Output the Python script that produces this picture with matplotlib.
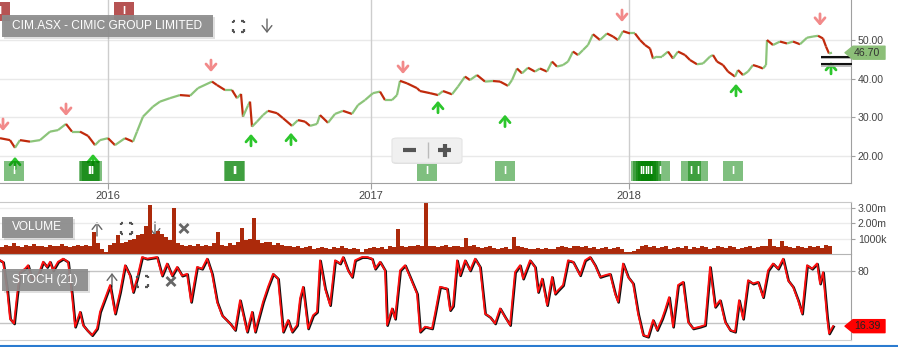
import matplotlib
matplotlib.use('Agg')
import matplotlib.pyplot as plt
import numpy as np
from matplotlib.collections import LineCollection
from matplotlib.patches import Rectangle, Polygon, FancyBboxPatch
from matplotlib.lines import Line2D
import matplotlib.transforms as mtransforms

plt.rcParams['font.family'] = ['Liberation Sans', 'DejaVu Sans']

W, H = 898, 347

# ---------------- data ----------------
title = 'CIM.ASX - CIMIC GROUP LIMITED'
price_day = [0, 10, 15, 20, 30, 40, 50, 58, 66, 72, 80, 88, 95, 100, 108, 115, 125, 133, 137, 143,
             153, 160, 170, 180, 190, 198, 212,
             217, 225, 232, 237, 241, 243, 248, 250, 252, 257, 263, 268, 277, 283, 292, 298, 305, 310,
             317, 320, 328, 335, 343, 352, 358, 365, 373, 380, 385, 392, 397, 400, 407, 417,
             420, 430, 438, 443, 452, 458, 465, 470, 477, 485, 493, 500, 508, 512, 517, 522, 528, 535,
             540, 547, 552, 557, 563, 568, 573, 578, 583, 588, 593, 600, 607, 613, 618, 623, 630,
             635, 640, 645, 650, 653, 657, 662, 668, 673, 678, 685, 690, 697, 703, 710, 713, 717, 723,
             728, 735, 738, 743, 748, 753, 758, 763, 766, 767, 773, 780, 787, 793, 800, 807, 813, 818,
             823, 826, 829, 832]
price_close = [24.5, 24.0, 22.0, 24.0, 23.6, 24.0, 26.2, 26.6, 28.2, 26.2, 26.2, 25.1, 22.7, 24.0, 24.5,
               22.7, 24.5, 23.6, 26.2, 30.1, 32.7, 34.0, 34.9, 35.7, 35.5, 37.5, 39.2,
               38.3, 37.0, 37.0, 34.9, 36.0, 30.1, 33.0, 34.0, 27.5, 28.8, 30.5, 31.6, 31.0, 29.7, 27.7,
               29.2, 28.8, 27.7, 28.2, 30.5, 28.5, 30.8, 31.6, 30.8, 33.1, 34.4, 36.2, 36.6, 34.4, 34.4,
               35.7, 39.4, 38.75, 37.5,
               36.75, 36.2, 35.7, 36.75, 35.9, 37.9, 40.5, 39.6, 40.9, 39.2, 39.35, 39.2, 38.1, 39.6,
               42.6, 41.35, 42.8, 41.8, 42.6, 41.8, 44.4, 43.1, 43.5, 44.4, 47.0, 46.1, 47.4, 48.7,
               51.5, 50.0, 51.7, 50.9, 50.0, 52.3, 51.7,
               51.7, 50.0, 48.7, 47.8, 45.2, 45.7, 45.7, 47.0, 45.2, 47.0, 46.1, 44.8, 43.7, 43.9, 45.7,
               46.1, 44.4, 43.5, 41.8, 40.5, 42.2, 40.9, 41.8, 43.5, 43.1, 42.6, 43.5, 50.0, 48.7, 49.6,
               49.1, 49.6, 48.9, 50.6, 50.9, 51.1, 50.4, 48.3, 46.5, 46.7]

vol_day = list(range(0, 832, 4))
vol_m = [0.45, 0.6, 0.5, 0.7, 0.55, 0.45, 0.6, 0.5, 0.65, 0.5,
         0.55, 0.45, 0.6, 0.5, 0.55, 0.65, 0.5, 0.45, 0.55, 0.6,
         0.5, 0.6, 0.55, 1.4, 0.7, 0.35, 0.15, 0.6, 0.7, 1.2,
         0.7, 0.8, 0.9, 1.0, 1.2, 1.3, 1.8, 3.2, 1.3, 1.5,
         1.3, 1.1, 0.9, 3.0, 0.7, 0.6, 0.55, 0.6, 0.5, 0.65,
         0.55, 0.6, 0.5, 0.7, 1.4, 0.6, 0.55, 0.7, 0.6, 0.8,
         1.7, 0.9, 1.0, 2.35, 0.9, 0.7, 0.8, 0.75, 0.6, 0.7,
         0.6, 0.5, 0.55, 0.45, 0.5, 0.4, 0.45, 0.5, 0.35, 0.4,
         0.45, 0.4, 0.35, 0.45, 0.4, 0.5, 0.4, 0.35, 0.4, 0.3,
         0.1, 0.35, 0.4, 0.45, 0.4, 0.45, 0.35, 0.5, 0.45, 1.65,
         0.5, 0.45, 0.55, 0.5, 0.6, 0.5, 3.4, 0.55, 0.5, 0.45,
         0.5, 0.6, 0.45, 0.55, 0.5, 0.45, 1.04, 0.5, 0.6, 0.45,
         0.4, 0.45, 0.5, 0.4, 0.35, 0.4, 0.45, 0.35, 1.1, 0.5,
         0.45, 0.4, 0.35, 0.3, 0.4, 0.35, 0.4, 0.3, 0.35, 0.45,
         0.5, 0.45, 0.4, 0.5, 0.55, 0.45, 0.5, 0.4, 0.45, 0.35,
         0.4, 0.45, 0.35, 0.4, 0.45, 0.3, 0.15, 0.15, 0.2, 0.35,
         0.5, 0.6, 0.45, 0.5, 0.4, 0.45, 0.5, 0.35, 0.4, 0.45,
         0.4, 0.5, 0.35, 0.45, 0.4, 0.5, 0.45, 0.35, 0.4, 0.5,
         0.45, 0.4, 0.5, 0.45, 0.35, 0.4, 0.45, 0.5, 0.4, 0.45,
         0.5, 0.55, 1.0, 0.5, 0.45, 0.85, 0.5, 0.45, 0.4, 0.5,
         0.45, 0.4, 0.5, 0.45, 0.55, 0.4, 0.6, 0.5]

stoch_day = [0, 3, 7, 10, 14, 17, 20, 25, 28, 32,
             38, 43, 47, 50, 53, 58, 63, 68, 72, 75,
             80, 83, 87, 92, 97, 100, 105, 110, 115, 120,
             125, 130, 133, 137, 142, 147, 157, 162, 167, 172,
             177, 182, 187, 191, 197, 202, 207, 212, 217, 222,
             230, 235, 240, 247, 252, 255, 263, 268, 273, 278,
             283, 288, 292, 297, 300, 303, 308, 313, 317, 320,
             325, 330, 335, 340, 343, 348, 352, 355, 362, 367,
             372, 375, 380, 385, 387, 392, 395, 400, 405, 410,
             417, 420, 425, 432, 435, 440, 447, 450, 453, 457,
             460, 465, 470, 475, 480, 485, 490, 495, 500, 505,
             510, 515, 520, 523, 530, 535, 538, 542, 547, 552,
             555, 558, 563, 568, 573, 580, 585, 590, 595, 600,
             605, 610, 615, 618, 623, 628, 633, 638, 643, 648,
             653, 657, 662, 665, 669, 673, 678, 683, 688, 693,
             700, 705, 710, 715, 720, 725, 730, 735, 739, 743,
             748, 753, 758, 763, 768, 773, 778, 783, 788, 793,
             798, 802, 807, 812, 817, 820, 823, 827, 829, 833]
stoch_val = [92.7, 90.8, 60, 25, 19.6, 52, 79, 83, 87, 70,
             75, 91, 85, 91, 81, 91, 94.6, 91, 52, 15.8,
             33, 17.7, 12, 6, 13.8, 33, 48.5, 64, 31, 56,
             87, 75, 56, 71.5, 96.5, 94.6, 96.5, 75, 89, 75,
             85, 75, 77, 44.6, 85, 83, 94.6, 77, 44.6, 29,
             19.6, 12, 46.5, 10, 33, 10, 44.6, 62, 77, 71.5,
             10, 23.5, 10, 17.7, 48.5, 62, 13.8, 29, 33, 92.7,
             60, 40.8, 92.7, 89, 96.5, 81, 73.5, 92.7, 96.5, 96.5,
             94.6, 83, 91, 81, 17.7, 37, 25, 81, 87, 73.5,
             54, 10, 15.8, 13.8, 31, 62, 60, 35, 40, 92.7,
             75.4, 92.7, 81, 94.6, 85, 31, 27, 19.6, 37, 27,
             17.7, 79, 87, 71.5, 92.7, 85, 56, 71.5, 40.8, 73.5,
             54, 58, 64, 92.7, 91, 75.4, 92.7, 96.5, 87, 73.5,
             75.4, 77, 54, 44.6, 89, 73.5, 66, 31, 6.2, 4.2,
             23.5, 12, 25, 35, 50, 15.8, 64, 67.7, 21.5, 13.8,
             15.8, 17.7, 85, 38.8, 46.5, 21.5, 12, 10, 46.5, 25,
             69.6, 65.8, 67.7, 50, 81, 89, 83, 94.6, 69.6, 62,
             46.5, 31, 87, 83, 89, 65.8, 79, 27, 8, 16.39]

year_labels = ['2016', '2017', '2018']
year_day = [108, 371, 629]
sell_day = [3, 66, 211, 403, 622, 820]
sell_level = [27.9, 31.8, 43.2, 42.7, 56.2, 55.2]
buy_day = [15, 93, 251, 291, 438, 505, 736, 831]
buy_level = [18.05, 18.8, 24.0, 24.3, 32.6, 29.0, 37.0, 42.7]
buy_box_day = [14, 89, 90, 92, 234, 235, 427, 505, 641, 643, 646, 648, 651, 660, 691, 698, 733]
sell_box_day = [0, 124]
last_price = 46.70
last_stoch = 16.39
support_levels = [45.66, 43.70]
price_ticks = [20, 30, 40, 50]
vol_ticks = [1, 2, 3]
vol_tick_labels = ['1000k', '2.00m', '3.00m']
stoch_ticks = [80]
stoch_grid = [20, 80]

UP = '#8cc47a'
DOWN = '#c02a0c'
AXC = '#a0a0a0'
TXT = '#444444'

# ---------------- figure ----------------
fig = plt.figure(figsize=(W / 100, H / 100), dpi=100)
fig.patch.set_facecolor('white')


def rect(x0, y0, x1, y1):
    return [x0 / W, 1 - y1 / H, (x1 - x0) / W, (y1 - y0) / H]


def fx(x):
    return x / W


def fy(y):
    return 1 - y / H


axm = fig.add_axes(rect(0, 0, 851, 183))
axv = fig.add_axes(rect(0, 202, 851, 254))
axs = fig.add_axes(rect(0, 254, 851, 340.3))
for a in (axm, axv, axs):
    a.set_xlim(0, 851)
    a.set_facecolor('none')
    a.spines['left'].set_visible(False)
    a.spines['right'].set_color(AXC)
    a.yaxis.tick_right()
    a.tick_params(axis='y', length=3, color=AXC, labelsize=7.6, labelcolor=TXT, pad=2)

axm.set_ylim(12.86, 60.39)
axv.set_ylim(0, 3.37)
axs.set_ylim(0, 100)

# main panel
axm.spines['top'].set_visible(False)
axm.spines['bottom'].set_color(AXC)
for v in price_ticks:
    axm.axhline(v, color='#e9e9e9', lw=1, zorder=0)
for d in year_day:
    axm.axvline(d, color='#cdcdcd', lw=1, zorder=0)
axm.set_yticks(price_ticks)
axm.set_yticklabels([f'{v:.2f}' for v in price_ticks])
axm.set_xticks(year_day)
axm.set_xticklabels(year_labels)
axm.tick_params(axis='x', length=4, color=AXC, labelsize=8, labelcolor=TXT, pad=2)

pts = np.column_stack([price_day, price_close])
segs = np.stack([pts[:-1], pts[1:]], axis=1)
cols = [UP if b >= a else DOWN for a, b in zip(price_close[:-1], price_close[1:])]
axm.add_collection(LineCollection(segs, colors=cols, linewidths=1.6, zorder=3))

# signal arrows
for d, lv in zip(sell_day, sell_level):
    axm.annotate('', xy=(d, lv - 1.5), xytext=(d, lv + 1.6),
                 arrowprops=dict(arrowstyle='->,head_length=0.35,head_width=0.3', color='#f28a8a',
                                 lw=2, shrinkA=0, shrinkB=0, mutation_scale=12), annotation_clip=False)
for d, lv in zip(buy_day, buy_level):
    axm.annotate('', xy=(d, lv + 1.6), xytext=(d, lv - 1.5),
                 arrowprops=dict(arrowstyle='->,head_length=0.35,head_width=0.3', color='#2cc62c',
                                 lw=2, shrinkA=0, shrinkB=0, mutation_scale=12), annotation_clip=False)

# signal boxes
for d in buy_box_day:
    axm.add_patch(Rectangle((d - 10, 13.38), 20, 5.2, fc='#008000', alpha=0.5, lw=0, zorder=4))
    axm.text(d, 15.95, 'I', color='white', ha='center', va='center', fontsize=8, fontweight='bold', zorder=5)
for d in sell_box_day:
    axm.add_patch(Rectangle((d - 10, 54.95), 20, 4.95, fc='#9e1a1a', alpha=0.75, lw=0, zorder=4,
                            clip_on=True))
    axm.text(d, 57.6, 'I', color='white', ha='center', va='center', fontsize=8, fontweight='bold', zorder=5)

# support lines
for lv in support_levels:
    axm.hlines(lv - 0.35, 821, 852, colors='#b0b0b0', lw=1.2, clip_on=False, zorder=5)
    axm.hlines(lv, 821, 852, colors='#111111', lw=1.5, clip_on=False, zorder=6)

# volume panel
axv.spines['top'].set_color('#c8c8c8')
axv.spines['bottom'].set_color('#b4b4b4')
for v in vol_ticks:
    axv.axhline(v, color='#ebebeb', lw=1, zorder=0)
axv.bar(vol_day, vol_m, width=4, align='edge', color='#ac2a0b', lw=0, zorder=2)
axv.set_yticks(vol_ticks)
axv.set_yticklabels(vol_tick_labels)
axv.set_xticks([])

# stoch panel
axs.spines['top'].set_visible(False)
axs.spines['bottom'].set_color('#d0d0d0')
for v in stoch_grid:
    axs.axhline(v, color='#c4c4c4', lw=1, zorder=0)
shift = mtransforms.offset_copy(axs.transData, fig=fig, x=0.5, y=-0.5, units='points')
axs.plot(stoch_day, stoch_val, color='#111111', lw=1.8, transform=shift, zorder=2,
         solid_joinstyle='round')
axs.plot(stoch_day, stoch_val, color='#ff1010', lw=1.3, zorder=3, solid_joinstyle='round')
axs.set_yticks(stoch_ticks)
axs.set_yticklabels([str(v) for v in stoch_ticks])
axs.set_xticks([])


# ---------------- overlays ----------------
def tag(ax, val, text, fc, tc):
    yd = ax.transData.transform((0, val))[1]
    y = H - yd
    h = 6.5
    poly = [(845, y), (853, y - h), (885, y - h), (885, y + h), (853, y + h)]
    fig.add_artist(Polygon([(fx(px), fy(py)) for px, py in poly], closed=True, fc=fc, ec=fc, lw=1,
                           joinstyle='round', transform=fig.transFigure, zorder=10))
    fig.text(fx(867), fy(y), text, color=tc, fontsize=7.6, ha='center', va='center', zorder=11)


tag(axm, last_price, f'{last_price:.2f}', '#8cbf78', '#333333')
tag(axs, last_stoch, f'{last_stoch:.2f}', '#ff0000', '#222222')


def label_box(x0, y0, x1, y1, text):
    fig.add_artist(Rectangle((fx(x0 + 1.5), fy(y1 + 1.5)), (x1 - x0) / W, (y1 - y0) / H,
                             fc='#000000', alpha=0.12, lw=0, transform=fig.transFigure, zorder=8))
    fig.add_artist(Rectangle((fx(x0), fy(y1)), (x1 - x0) / W, (y1 - y0) / H, fc='#8c8c8c', alpha=0.92,
                             lw=0, transform=fig.transFigure, zorder=9))
    fig.text(fx(x0 + 10), fy((y0 + y1) / 2), text, color='white', fontsize=8.6, ha='left', va='center',
             zorder=10)


def line(x0, y0, x1, y1, color='#555555', lw=1.5):
    fig.add_artist(Line2D([fx(x0), fx(x1)], [fy(y0), fy(y1)], transform=fig.transFigure, color=color,
                          lw=lw, zorder=12, solid_capstyle='butt'))


def fullscreen(cx, cy, s=5.5, c=2.8):
    for sx in (-1, 1):
        for sy in (-1, 1):
            x, y = cx + sx * s, cy + sy * s
            line(x, y, x - sx * c, y, lw=1.6)
            line(x, y, x, y - sy * c, lw=1.6)


def thin_arrow(x, ytail, yhead):
    axm.annotate('', xy=(x, H - yhead), xytext=(x, H - ytail), xycoords='figure pixels',
                 textcoords='figure pixels',
                 arrowprops=dict(arrowstyle='->,head_length=0.45,head_width=0.35', color='#666666', lw=1,
                                 shrinkA=0, shrinkB=0, mutation_scale=10), annotation_clip=False)


def xmark(cx, cy, s=4.5):
    line(cx - s, cy - s, cx + s, cy + s, color='#666666', lw=2)
    line(cx - s, cy + s, cx + s, cy - s, color='#666666', lw=2)


label_box(2, 15, 213, 37, title)
fullscreen(238, 26)
thin_arrow(267, 19, 33)

label_box(2, 217, 73, 238, 'VOLUME')
thin_arrow(97, 236, 222)
fullscreen(126, 228)
thin_arrow(155, 222, 236)
xmark(184, 228.5)

label_box(2, 269, 88, 291, 'STOCH (21)')
thin_arrow(112, 287, 273)
fullscreen(142, 281)
xmark(171, 281.5)

# zoom control
fig.add_artist(FancyBboxPatch((fx(392), fy(164)), 70 / W, 25 / H,
                              boxstyle='round,pad=0,rounding_size=0.006', fc='#dcdcdc', ec='none',
                              transform=fig.transFigure, zorder=12))
fig.add_artist(FancyBboxPatch((fx(392), fy(163)), 70 / W, 25 / H,
                              boxstyle='round,pad=0,rounding_size=0.006', fc='#f0f0f0', ec='#e4e4e4',
                              lw=0.8, transform=fig.transFigure, zorder=12))
line(403, 150.5, 416, 150.5, color='#555555', lw=3)
line(438, 150.5, 451, 150.5, color='#555555', lw=3)
line(444.5, 144, 444.5, 157, color='#555555', lw=3)
line(428, 142, 428, 158, color='#bbbbbb', lw=1)

# bottom blue rule
line(0, 345.8, 898, 345.8, color='#2b7bd0', lw=1.5)

fig.savefig('out.png', dpi=100, facecolor='white')
